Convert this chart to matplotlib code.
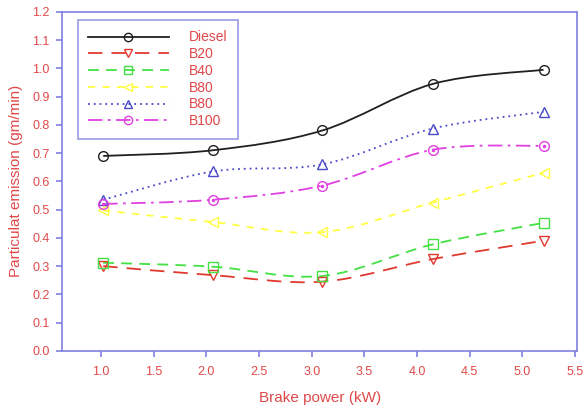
import numpy as np
import matplotlib
matplotlib.use('Agg')
import matplotlib.pyplot as plt
from matplotlib.path import Path
from matplotlib.patches import PathPatch
from matplotlib.lines import Line2D

plt.rcParams['font.family'] = ['Liberation Sans', 'DejaVu Sans']

# brake power (kW)
power = [1.02, 2.06, 3.10, 4.15, 5.20]

labels = ['Diesel', 'B20', 'B40', 'B80', 'B80', 'B100']
diesel = [0.69, 0.71, 0.78, 0.945, 0.995]
b20 = [0.300, 0.268, 0.245, 0.325, 0.390]
b40 = [0.312, 0.298, 0.265, 0.377, 0.453]
b80_y = [0.497, 0.456, 0.420, 0.525, 0.630]
b80_b = [0.535, 0.635, 0.660, 0.787, 0.846]
b100 = [0.520, 0.535, 0.585, 0.712, 0.726]
series = [diesel, b20, b40, b80_y, b80_b, b100]

colors = ['#202020', '#e03a30', '#44e044', '#ffff44', '#4a4ac8', '#e040e0']
styles = ['-', (0, (8, 5)), (0, (6, 4)), (0, (4, 4)), (0, (1, 2.2)), (0, (8, 3, 1.5, 3))]
markers = ['o', 'v', 's', '<', '^', 'o']

red = '#e04848'
frame = '#8080e0'

fig = plt.figure(figsize=(5.86, 4.08), dpi=100)
ax = fig.add_axes([0.106, 0.14, 0.879, 0.831])


def smooth_path(x, y):
    # catmull-rom as cubic bezier segments
    verts = [(x[0], y[0])]
    codes = [Path.MOVETO]
    n = len(x)
    for i in range(n - 1):
        x0, y0 = (x[i - 1], y[i - 1]) if i > 0 else (x[i], y[i])
        x3, y3 = (x[i + 2], y[i + 2]) if i + 2 < n else (x[i + 1], y[i + 1])
        c1 = (x[i] + (x[i + 1] - x0) / 6, y[i] + (y[i + 1] - y0) / 6)
        c2 = (x[i + 1] - (x3 - x[i]) / 6, y[i + 1] - (y3 - y[i]) / 6)
        verts += [c1, c2, (x[i + 1], y[i + 1])]
        codes += [Path.CURVE4] * 3
    return Path(verts, codes)


handles = []
for vals, c, ls, m, lab in zip(series, colors, styles, markers, labels):
    ax.add_patch(PathPatch(smooth_path(power, vals), facecolor='none',
                           edgecolor=c, lw=1.3, linestyle=ls))
    ax.plot(power, vals, linestyle='none', marker=m, ms=7, mfc='none', mec=c, mew=1.0)
    h = Line2D([], [], color=c, lw=1.3, linestyle=ls, marker=m, ms=6,
               mfc='none', mec=c, mew=1.0)
    handles.append(h)
# dot inside B100 circles
ax.plot(power, b100, linestyle='none', marker='.', ms=3, color=colors[5])

ax.set_xlim(0.63, 5.52)
ax.set_ylim(0, 1.2)
ax.set_xticks(np.arange(1.0, 5.51, 0.5))
ax.set_yticks(np.arange(0, 1.21, 0.1))
ax.set_xticklabels(['%.1f' % v for v in np.arange(1.0, 5.51, 0.5)])
ax.set_yticklabels(['%.1f' % v for v in np.arange(0, 1.21, 0.1)])

for s in ax.spines.values():
    s.set_color(frame)
    s.set_linewidth(1.2)
ax.tick_params(colors=frame, labelcolor=red, labelsize=9, length=4, width=1.2,
               direction='out', top=False, right=False)
ax.tick_params(axis='x', pad=7)
ax.tick_params(axis='y', pad=5)

ax.set_xlabel('Brake power (kW)', color=red, fontsize=11, labelpad=9)
ax.set_ylabel('Particulat emission (gm/min)', color=red, fontsize=11, labelpad=7)

leg = ax.legend(handles, labels, loc='upper left', bbox_to_anchor=(0.03, 0.976),
                borderaxespad=0, handlelength=5.8, fontsize=10, frameon=True,
                fancybox=False, labelspacing=0.2, borderpad=0.75, handletextpad=1.5)
leg.get_frame().set_edgecolor(frame)
leg.get_frame().set_linewidth(1.2)
for t in leg.get_texts():
    t.set_color(red)

fig.savefig('out.png', dpi=100)
